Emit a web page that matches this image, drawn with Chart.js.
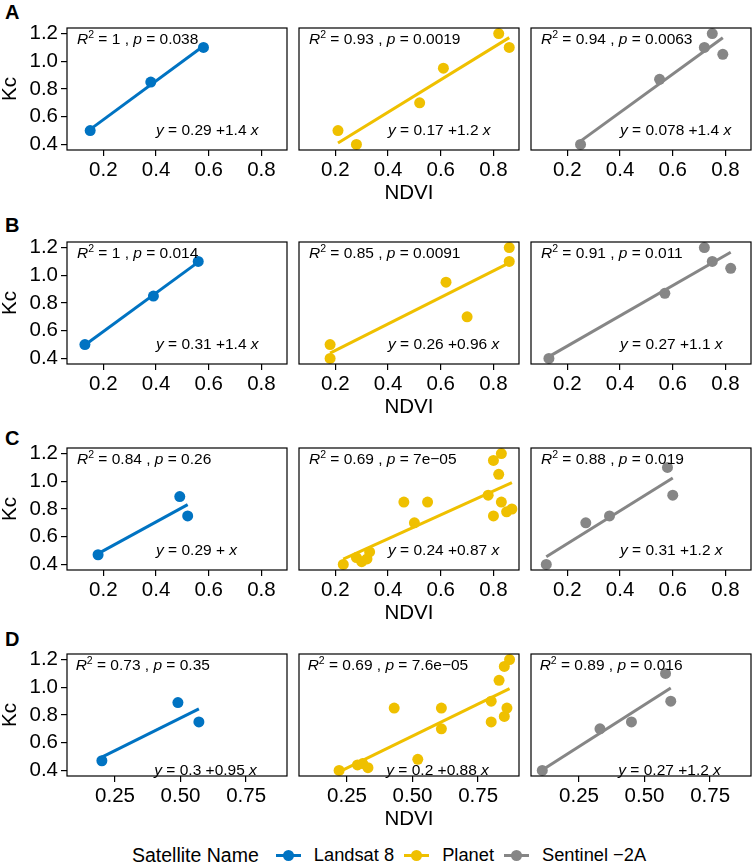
<!DOCTYPE html>
<html>
<head>
<meta charset="utf-8">
<script src="https://cdn.jsdelivr.net/npm/chart.js@4.4.0/dist/chart.umd.min.js"></script>
<style>
	html, body { margin: 0; padding: 0; background: #fff; }
	#figure { position: relative; width: 754px; height: 865px; overflow: hidden; font-family: "Liberation Sans", Arial, sans-serif; color: #000; }
	#figure canvas { position: absolute; }
	.row-letter { position: absolute; left: 5px; font-weight: bold; font-size: 20px; line-height: 20px; }
	#legend { position: absolute; left: 132px; top: 843px; height: 24px; display: flex; align-items: center; white-space: nowrap; }
	.legend-title { font-size: 19.5px; margin-right: 7px; }
	.legend-label { font-size: 18.3px; }
	.key { position: relative; width: 25px; height: 12px; margin: 0 13px 0 10px; }
	.key-line { position: absolute; left: 0; right: 0; top: 4.5px; height: 3px; }
	.key-dot { position: absolute; left: 7px; top: 0.5px; width: 11px; height: 11px; border-radius: 50%; }
</style>
</head>
<body>
<div id="figure">
	<div id="legend"></div>
</div>
<script>
(() => {
	'use strict'

	/******************** Data ********************/
	const rowLetters = ['A', 'B', 'C', 'D'];
	const satellites = ['Landsat 8', 'Planet', 'Sentinel \u22122A'];

	const xTicksABC = [0.2, 0.4, 0.6, 0.8];
	const xTickLabelsABC = ['0.2', '0.4', '0.6', '0.8'];
	const xTicksD = [0.25, 0.5, 0.75];
	const xTickLabelsD = ['0.25', '0.50', '0.75'];
	const yTicks = [0.4, 0.6, 0.8, 1.0, 1.2];
	const yTickLabels = ['0.4', '0.6', '0.8', '1.0', '1.2'];

	// Row A
	const ndviA_L8 = [0.15, 0.38, 0.58];
	const kcA_L8 = [0.50, 0.85, 1.10];
	const ndviA_PL = [0.21, 0.28, 0.52, 0.61, 0.82, 0.86];
	const kcA_PL = [0.50, 0.40, 0.70, 0.95, 1.20, 1.10];
	const ndviA_S2 = [0.25, 0.55, 0.72, 0.75, 0.79];
	const kcA_S2 = [0.40, 0.87, 1.10, 1.20, 1.05];

	// Row B
	const ndviB_L8 = [0.13, 0.39, 0.56];
	const kcB_L8 = [0.50, 0.85, 1.10];
	const ndviB_PL = [0.18, 0.18, 0.62, 0.70, 0.86, 0.86];
	const kcB_PL = [0.50, 0.40, 0.95, 0.70, 1.20, 1.10];
	const ndviB_S2 = [0.13, 0.57, 0.72, 0.75, 0.82];
	const kcB_S2 = [0.40, 0.87, 1.20, 1.10, 1.05];

	// Row C
	const ndviC_L8 = [0.18, 0.49, 0.52];
	const kcC_L8 = [0.47, 0.89, 0.75];
	const ndviC_PL = [0.23, 0.28, 0.30, 0.32, 0.33, 0.46, 0.50, 0.55, 0.78, 0.80, 0.80, 0.82, 0.83, 0.83, 0.85, 0.87];
	const kcC_PL = [0.40, 0.45, 0.42, 0.44, 0.49, 0.85, 0.70, 0.85, 0.90, 1.15, 0.75, 1.05, 1.20, 0.85, 0.78, 0.80];
	const ndviC_S2 = [0.12, 0.27, 0.36, 0.58, 0.60];
	const kcC_S2 = [0.40, 0.70, 0.75, 1.10, 0.90];

	// Row D
	const ndviD_L8 = [0.20, 0.49, 0.57];
	const kcD_L8 = [0.47, 0.89, 0.75];
	const ndviD_PL = [0.22, 0.29, 0.31, 0.33, 0.43, 0.52, 0.61, 0.61, 0.80, 0.80, 0.83, 0.85, 0.85, 0.86, 0.87];
	const kcD_PL = [0.40, 0.44, 0.45, 0.42, 0.85, 0.48, 0.85, 0.70, 0.90, 0.75, 1.05, 1.15, 0.79, 0.85, 1.20];
	const ndviD_S2 = [0.11, 0.33, 0.45, 0.58, 0.60];
	const kcD_S2 = [0.40, 0.70, 0.75, 1.10, 0.90];

	// Printed statistics (rows A-D, columns Landsat / Planet / Sentinel)
	const r2Labels = [['1', '0.93', '0.94'], ['1', '0.85', '0.91'], ['0.84', '0.69', '0.88'], ['0.73', '0.69', '0.89']];
	const pLabels = [['0.038', '0.0019', '0.0063'], ['0.014', '0.0091', '0.011'], ['0.26', '7e\u221205', '0.019'], ['0.35', '7.6e\u221205', '0.016']];
	const eqIntercepts = [['0.29', '0.17', '0.078'], ['0.31', '0.26', '0.27'], ['0.29', '0.24', '0.31'], ['0.3', '0.2', '0.27']];
	const eqSlopes = [['1.4', '1.2', '1.4'], ['1.4', '0.96', '1.1'], ['', '0.87', '1.2'], ['0.95', '0.88', '1.2']];

	/******************** Layout & style ********************/
	const colors = ['#0073C2', '#EFC000', '#868686'];
	const fontFamily = '"Liberation Sans", Arial, sans-serif';
	const panelLeft = [67, 299, 531];
	const panelTop = [28, 242, 448, 654];
	const letterTop = [2, 215, 428, 629];
	const panelW = 220, panelH = 122;
	const yAxisW = 67, xAxisH = 56, padTop = 3, padRight = 3;
	const xRangeByRow = [[0.062, 0.897], [0.062, 0.897], [0.062, 0.897], [0.067, 0.906]];
	const yRange = [0.36, 1.24];
	// label anchors in data units
	const statAnchor = { x: 0.1, y: 1.155 };
	const eqAnchorX = 0.4;
	const eqAnchorY = [0.5, 0.5, 0.5, 0.4];

	Chart.defaults.font.family = fontFamily;
	Chart.defaults.color = '#000';

	const panelNdvi = [
		[ndviA_L8, ndviA_PL, ndviA_S2],
		[ndviB_L8, ndviB_PL, ndviB_S2],
		[ndviC_L8, ndviC_PL, ndviC_S2],
		[ndviD_L8, ndviD_PL, ndviD_S2]
	];
	const panelKc = [
		[kcA_L8, kcA_PL, kcA_S2],
		[kcB_L8, kcB_PL, kcB_S2],
		[kcC_L8, kcC_PL, kcC_S2],
		[kcD_L8, kcD_PL, kcD_S2]
	];

	// Least squares line over the data range (as geom_smooth(method = 'lm'))
	function fitLine(xs, ys) {
		const n = xs.length;
		const mx = xs.reduce((s, v) => s + v, 0) / n;
		const my = ys.reduce((s, v) => s + v, 0) / n;
		let sxy = 0, sxx = 0;
		xs.forEach((v, i) => {
			sxy += (v - mx) * (ys[i] - my);
			sxx += (v - mx) * (v - mx);
		});
		const slope = sxy / sxx;
		const icpt = my - slope * mx;
		const lo = Math.min(...xs), hi = Math.max(...xs);
		return [{ x: lo, y: icpt + slope * lo }, { x: hi, y: icpt + slope * hi }];
	}

	function drawRuns(ctx, runs, x, y) {
		runs.forEach(run => {
			ctx.font = run.font;
			ctx.fillText(run.text, x, y + (run.dy || 0));
			x += ctx.measureText(run.text).width;
		});
	}

	// Panel border + stat labels
	const panelDecor = {
		id: 'panelDecor',
		afterDatasetsDraw(chart, args, opts) {
			const { ctx, chartArea: a, scales: { x, y } } = chart;
			ctx.save();
			ctx.strokeStyle = '#000';
			ctx.lineWidth = 1.2;
			ctx.strokeRect(a.left, a.top, a.right - a.left, a.bottom - a.top);

			const normal = '15.5px ' + fontFamily;
			const italic = 'italic 15.5px ' + fontFamily;
			const small = '10.5px ' + fontFamily;
			ctx.fillStyle = '#000';
			ctx.textBaseline = 'middle';
			ctx.textAlign = 'left';
			drawRuns(ctx, [
				{ text: 'R', font: italic },
				{ text: '2', font: small, dy: -5 },
				{ text: ' = ' + opts.r2 + ' , ', font: normal },
				{ text: 'p', font: italic },
				{ text: ' = ' + opts.p, font: normal }
			], x.getPixelForValue(statAnchor.x), y.getPixelForValue(statAnchor.y));

			drawRuns(ctx, [
				{ text: 'y', font: italic },
				{ text: ' = ' + opts.icpt + ' +' + opts.slope + ' ', font: normal },
				{ text: 'x', font: italic }
			], x.getPixelForValue(eqAnchorX), y.getPixelForValue(opts.eqY));
			ctx.restore();
		}
	};

	const figure = document.getElementById('figure');

	/******************** Panels ********************/
	rowLetters.forEach((letter, r) => {
		const tag = document.createElement('div');
		tag.className = 'row-letter';
		tag.style.top = letterTop[r] + 'px';
		tag.textContent = letter;
		figure.appendChild(tag);

		const xTicks = r === 3 ? xTicksD : xTicksABC;
		const xTickLabels = r === 3 ? xTickLabelsD : xTickLabelsABC;

		satellites.forEach((sat, c) => {
			const canvas = document.createElement('canvas');
			const padLeft = c === 0 ? 0 : 1;
			const w = (c === 0 ? yAxisW : padLeft) + panelW + padRight;
			const h = padTop + panelH + xAxisH;
			canvas.width = w;
			canvas.height = h;
			canvas.style.left = (c === 0 ? 0 : panelLeft[c] - padLeft) + 'px';
			canvas.style.top = (panelTop[r] - padTop) + 'px';
			figure.appendChild(canvas);

			const xs = panelNdvi[r][c];
			const ys = panelKc[r][c];

			const config = {
				data: {
					datasets: [
						{
							type: 'line',
							label: sat + ' fit',
							data: fitLine(xs, ys),
							borderColor: colors[c],
							borderWidth: 3,
							pointRadius: 0,
							fill: false,
							clip: false
						},
						{
							type: 'scatter',
							label: sat,
							data: xs.map((v, i) => ({ x: v, y: ys[i] })),
							backgroundColor: colors[c],
							borderWidth: 0,
							pointRadius: 5.5,
							clip: false
						}
					]
				},
				options: {
					responsive: false,
					animation: false,
					layout: {
						autoPadding: false,
						padding: { left: padLeft, right: padRight, top: padTop, bottom: 0 }
					},
					scales: {
						x: {
							type: 'linear',
							min: xRangeByRow[r][0],
							max: xRangeByRow[r][1],
							afterBuildTicks: scale => {
								scale.ticks = xTicks.map(v => ({ value: v }));
							},
							afterFit: scale => {
								scale.height = xAxisH;
								scale.paddingLeft = 0;
								scale.paddingRight = 0;
							},
							ticks: {
								autoSkip: false,
								maxRotation: 0,
								padding: 2,
								font: { size: 20.5 },
								callback: (value, index) => xTickLabels[index]
							},
							grid: { display: true, drawOnChartArea: false, drawTicks: true, tickLength: 6, color: '#000', lineWidth: 1.2 },
							border: { display: false },
							title: {
								display: c === 1,
								text: 'NDVI',
								font: { size: 20.5 },
								padding: 0
							}
						},
						y: {
							type: 'linear',
							display: c === 0,
							min: yRange[0],
							max: yRange[1],
							afterBuildTicks: scale => {
								scale.ticks = yTicks.map(v => ({ value: v }));
							},
							afterFit: scale => {
								// only the left column carries a y axis
								scale.width = c === 0 ? yAxisW : 0;
								scale.paddingTop = 0;
								scale.paddingBottom = 0;
							},
							ticks: {
								autoSkip: false,
								padding: 3,
								font: { size: 20.5 },
								callback: (value, index) => yTickLabels[index]
							},
							grid: { display: true, drawOnChartArea: false, drawTicks: true, tickLength: 6, color: '#000', lineWidth: 1.2 },
							border: { display: false },
							title: {
								display: true,
								text: 'Kc',
								font: { size: 20.5, lineHeight: 1 },
								padding: 0
							}
						}
					},
					plugins: {
						legend: { display: false },
						tooltip: { enabled: false },
						panelDecor: {
							r2: r2Labels[r][c],
							p: pLabels[r][c],
							icpt: eqIntercepts[r][c],
							slope: eqSlopes[r][c],
							eqY: eqAnchorY[r]
						}
					}
				},
				plugins: [panelDecor]
			};

			new Chart(canvas, config);
		});
	});

	/******************** Legend ********************/
	const legend = document.getElementById('legend');
	const title = document.createElement('span');
	title.className = 'legend-title';
	title.textContent = 'Satellite Name';
	legend.appendChild(title);
	satellites.forEach((sat, i) => {
		const key = document.createElement('span');
		key.className = 'key';
		key.innerHTML = '<span class="key-line" style="background:' + colors[i] + '"></span>' +
			'<span class="key-dot" style="background:' + colors[i] + '"></span>';
		legend.appendChild(key);
		const label = document.createElement('span');
		label.className = 'legend-label';
		label.textContent = sat;
		legend.appendChild(label);
	});
})()
</script>
</body>
</html>
